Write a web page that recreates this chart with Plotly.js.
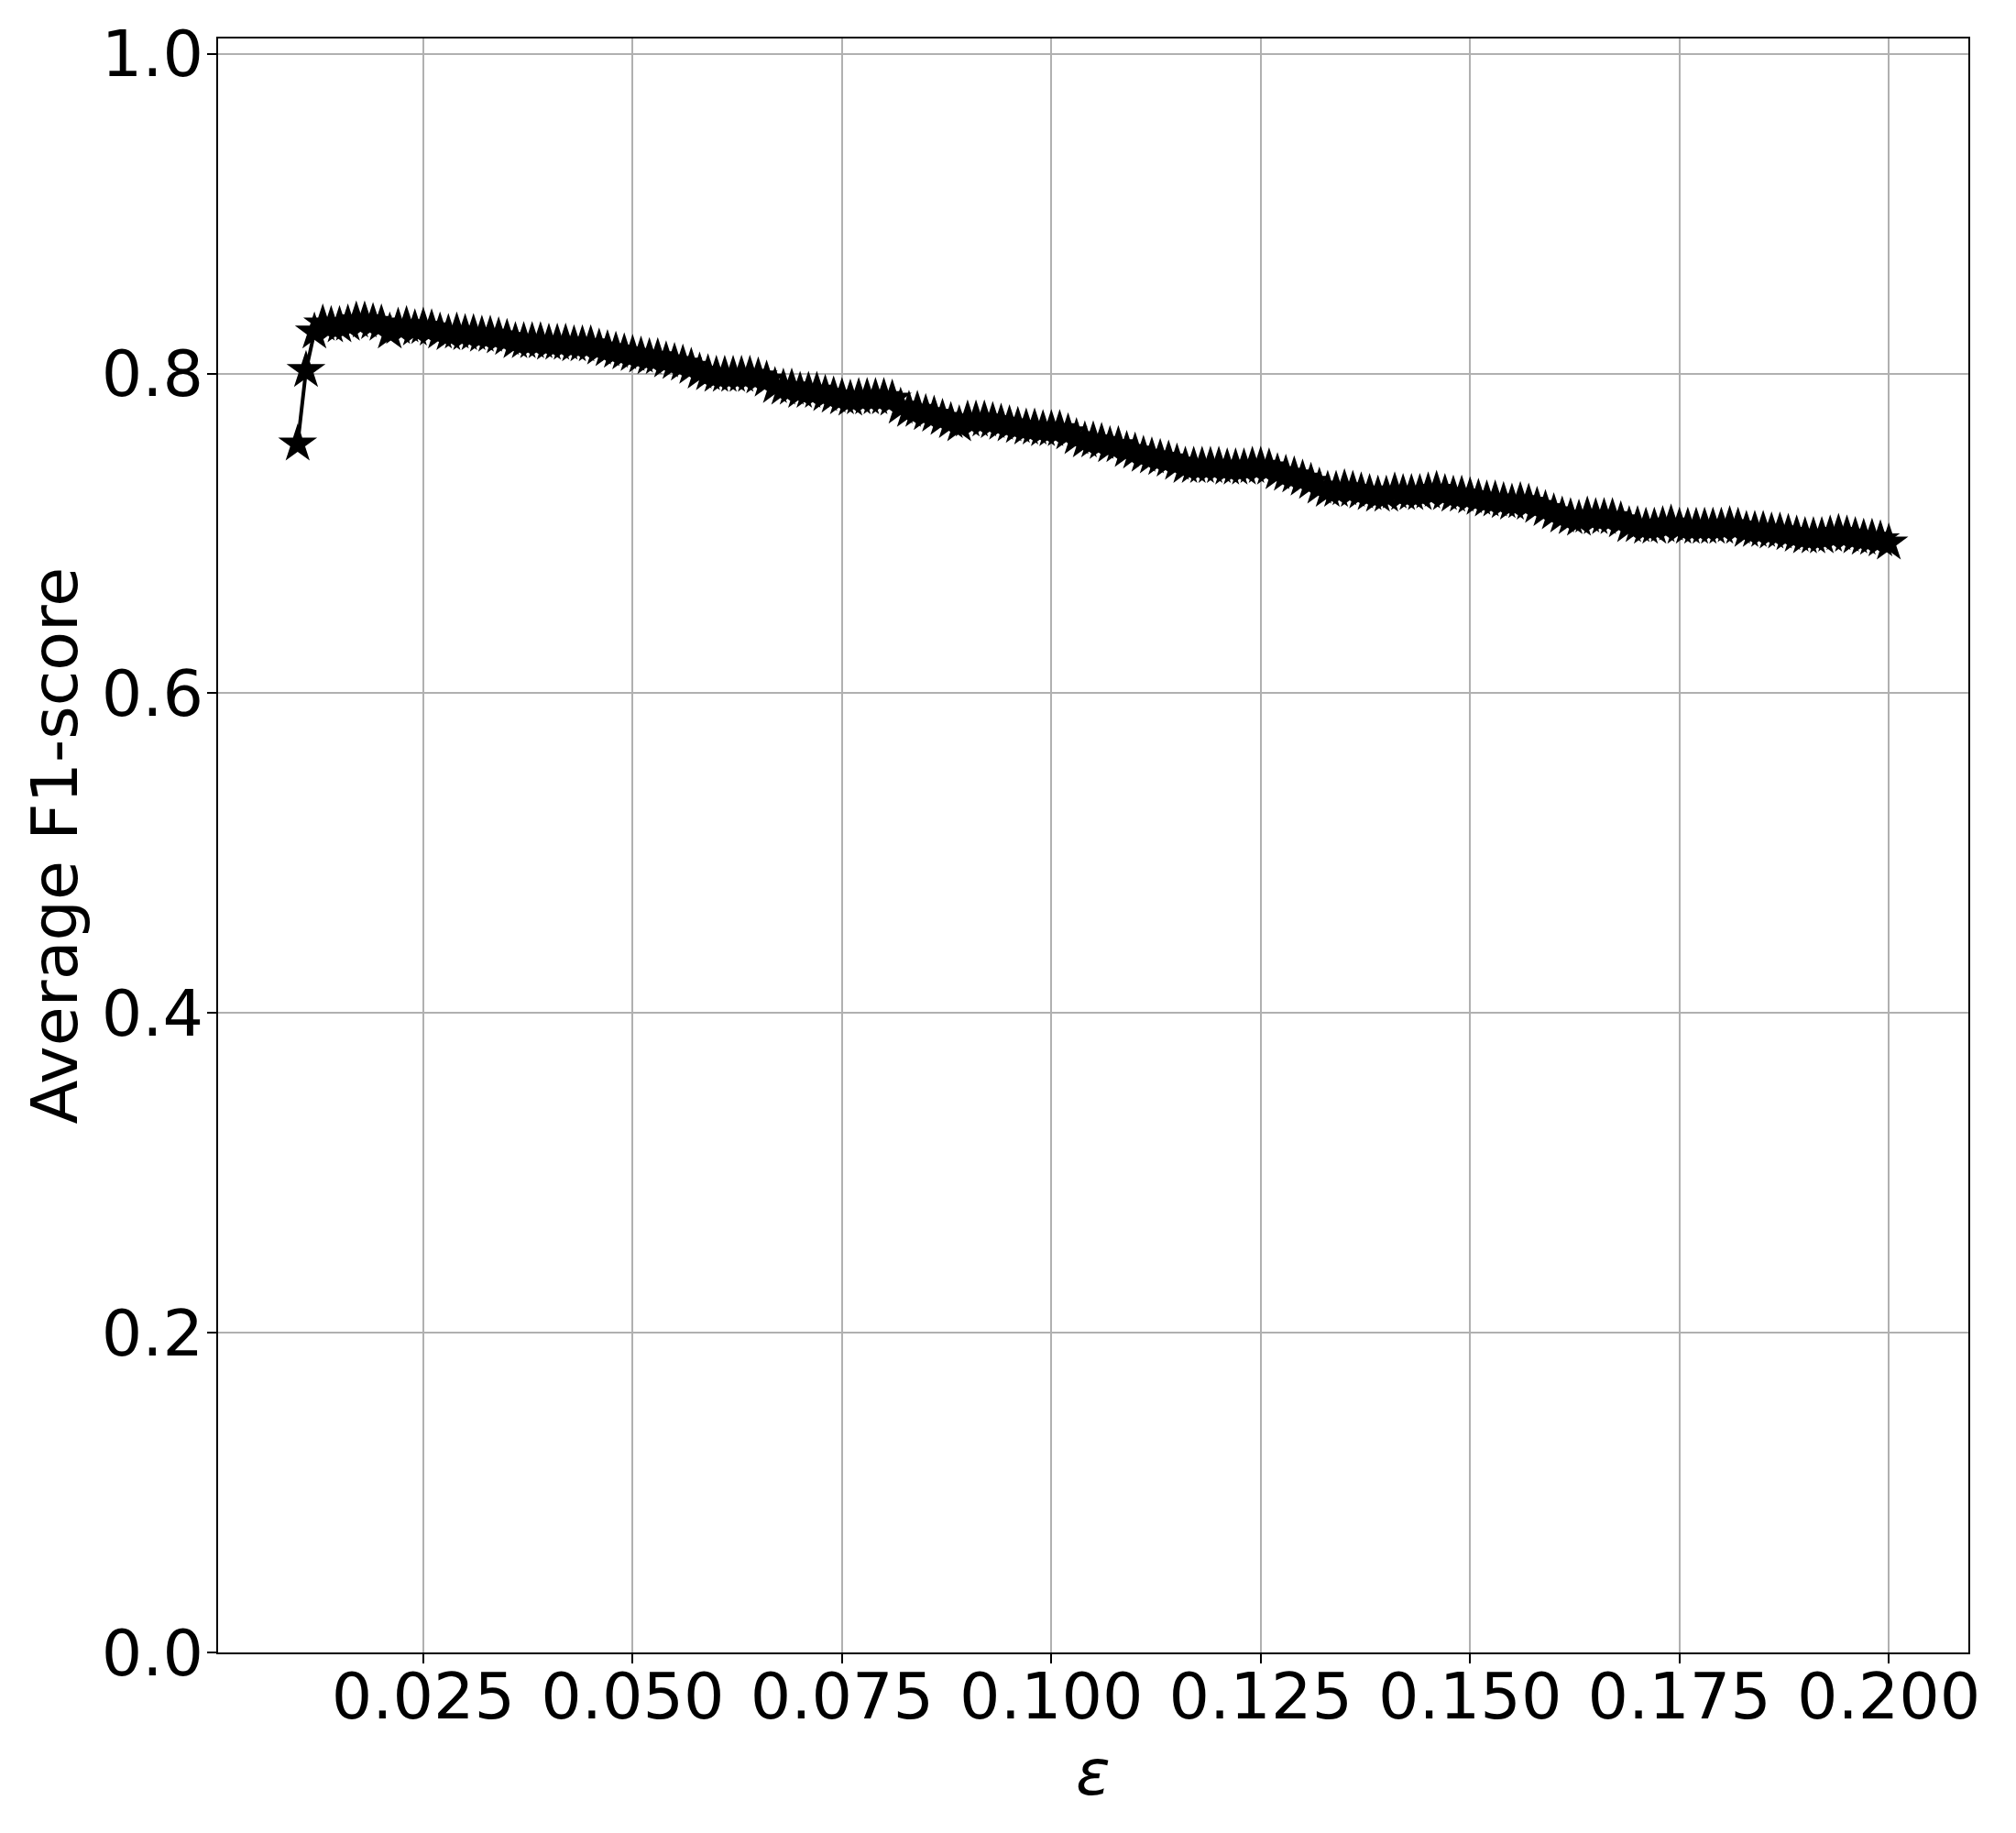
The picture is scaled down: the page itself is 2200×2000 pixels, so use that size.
<!DOCTYPE html>
<html>
<head>
<meta charset="utf-8">
<script src="https://cdn.plot.ly/plotly-3.0.1.min.js"></script>
<style>
  body { margin: 0; background: #fff; }
  #f1-plot { width: 2200px; height: 2000px; }
</style>
</head>
<body>
<div id="f1-plot"></div>
<script>
// epsilon values (x axis), 0.010 .. 0.200
var epsilons = [
  0.010, 0.011, 0.012, 0.013, 0.014, 0.015, 0.016, 0.017, 0.018, 0.019,
  0.020, 0.021, 0.022, 0.023, 0.024, 0.025, 0.026, 0.027, 0.028, 0.029,
  0.030, 0.031, 0.032, 0.033, 0.034, 0.035, 0.036, 0.037, 0.038, 0.039,
  0.040, 0.041, 0.042, 0.043, 0.044, 0.045, 0.046, 0.047, 0.048, 0.049,
  0.050, 0.051, 0.052, 0.053, 0.054, 0.055, 0.056, 0.057, 0.058, 0.059,
  0.060, 0.061, 0.062, 0.063, 0.064, 0.065, 0.066, 0.067, 0.068, 0.069,
  0.070, 0.071, 0.072, 0.073, 0.074, 0.075, 0.076, 0.077, 0.078, 0.079,
  0.080, 0.081, 0.082, 0.083, 0.084, 0.085, 0.086, 0.087, 0.088, 0.089,
  0.090, 0.091, 0.092, 0.093, 0.094, 0.095, 0.096, 0.097, 0.098, 0.099,
  0.100, 0.101, 0.102, 0.103, 0.104, 0.105, 0.106, 0.107, 0.108, 0.109,
  0.110, 0.111, 0.112, 0.113, 0.114, 0.115, 0.116, 0.117, 0.118, 0.119,
  0.120, 0.121, 0.122, 0.123, 0.124, 0.125, 0.126, 0.127, 0.128, 0.129,
  0.130, 0.131, 0.132, 0.133, 0.134, 0.135, 0.136, 0.137, 0.138, 0.139,
  0.140, 0.141, 0.142, 0.143, 0.144, 0.145, 0.146, 0.147, 0.148, 0.149,
  0.150, 0.151, 0.152, 0.153, 0.154, 0.155, 0.156, 0.157, 0.158, 0.159,
  0.160, 0.161, 0.162, 0.163, 0.164, 0.165, 0.166, 0.167, 0.168, 0.169,
  0.170, 0.171, 0.172, 0.173, 0.174, 0.175, 0.176, 0.177, 0.178, 0.179,
  0.180, 0.181, 0.182, 0.183, 0.184, 0.185, 0.186, 0.187, 0.188, 0.189,
  0.190, 0.191, 0.192, 0.193, 0.194, 0.195, 0.196, 0.197, 0.198, 0.199,
  0.200
];

// average F1-score (y axis)
var avgF1 = [
  0.756, 0.802, 0.826, 0.831, 0.830, 0.830, 0.831, 0.833, 0.833, 0.832,
  0.831, 0.826, 0.829, 0.830, 0.828, 0.829, 0.828, 0.826, 0.825, 0.826,
  0.825, 0.825, 0.824, 0.824, 0.823, 0.822, 0.820, 0.820, 0.820, 0.820,
  0.819, 0.819, 0.819, 0.818, 0.818, 0.818, 0.816, 0.815, 0.814, 0.813,
  0.812, 0.811, 0.810, 0.810, 0.808, 0.807, 0.806, 0.804, 0.801, 0.800,
  0.799, 0.799, 0.799, 0.799, 0.799, 0.798, 0.796, 0.792, 0.791, 0.791,
  0.789, 0.789, 0.789, 0.787, 0.786, 0.785, 0.784, 0.785, 0.785, 0.785,
  0.785, 0.784, 0.779, 0.777, 0.777, 0.775, 0.774, 0.772, 0.770, 0.768,
  0.771, 0.771, 0.771, 0.770, 0.769, 0.768, 0.767, 0.766, 0.766, 0.765,
  0.765, 0.765, 0.763, 0.760, 0.758, 0.758, 0.757, 0.755, 0.755, 0.752,
  0.751, 0.749, 0.748, 0.747, 0.746, 0.744, 0.742, 0.742, 0.742, 0.742,
  0.742, 0.741, 0.741, 0.741, 0.742, 0.742, 0.741, 0.738, 0.737, 0.736,
  0.734, 0.732, 0.729, 0.727, 0.727, 0.728, 0.727, 0.726, 0.725, 0.724,
  0.724, 0.726, 0.725, 0.725, 0.725, 0.726, 0.727, 0.725, 0.724, 0.724,
  0.723, 0.722, 0.721, 0.721, 0.720, 0.719, 0.720, 0.719, 0.717, 0.715,
  0.713, 0.711, 0.710, 0.709, 0.711, 0.710, 0.710, 0.710, 0.708, 0.705,
  0.705, 0.704, 0.704, 0.705, 0.706, 0.704, 0.704, 0.704, 0.704, 0.704,
  0.704, 0.705, 0.704, 0.702, 0.702, 0.702, 0.701, 0.701, 0.700, 0.699,
  0.698, 0.698, 0.698, 0.699, 0.700, 0.699, 0.698, 0.697, 0.697, 0.696,
  0.694
];

var axisFont = { family: "DejaVu Sans", size: 70, color: "#000" };

var trace = {
  x: epsilons,
  y: avgF1,
  type: "scatter",
  mode: "lines+markers",
  line: { color: "#000", width: 4 },
  marker: { symbol: "star", size: 32, color: "#000" },
  showlegend: false
};

var layout = {
  width: 2200,
  height: 2000,
  margin: { l: 238, r: 52, t: 42, b: 197 },
  paper_bgcolor: "#fff",
  plot_bgcolor: "#fff",
  font: axisFont,
  xaxis: {
    range: [0.0005, 0.2095],
    tickmode: "linear",
    tick0: 0,
    dtick: 0.025,
    tickformat: ".3f",
    ticks: "outside",
    ticklen: 10,
    tickwidth: 2,
    tickcolor: "#000",
    tickfont: axisFont,
    ticklabelstandoff: -24,
    showgrid: true,
    gridcolor: "#b0b0b0",
    gridwidth: 2,
    zeroline: false,
    showline: true,
    linecolor: "#000",
    linewidth: 2,
    mirror: true,
    title: { text: "<i>ε</i>", font: axisFont, standoff: 18 }
  },
  yaxis: {
    range: [0, 1.0096],
    tickmode: "linear",
    tick0: 0,
    dtick: 0.2,
    tickformat: ".1f",
    ticks: "outside",
    ticklen: 10,
    tickwidth: 2,
    tickcolor: "#000",
    tickfont: axisFont,
    ticklabelstandoff: -10,
    showgrid: true,
    gridcolor: "#b0b0b0",
    gridwidth: 2,
    zeroline: false,
    showline: true,
    linecolor: "#000",
    linewidth: 2,
    mirror: true,
    title: { text: "Average F1-score", font: axisFont, standoff: 3 }
  }
};

Plotly.newPlot("f1-plot", [trace], layout, { displayModeBar: false, staticPlot: true });
</script>
</body>
</html>
